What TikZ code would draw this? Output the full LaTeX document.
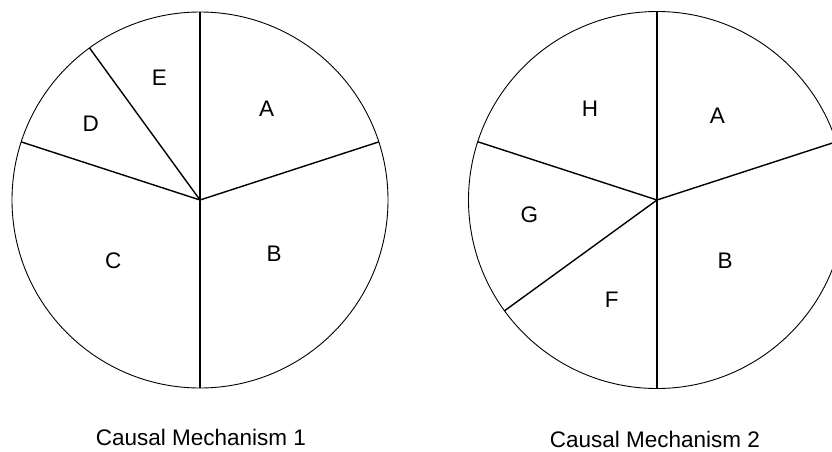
\documentclass[tikz,border=0pt]{standalone}
\usepackage{fontspec}
\setmainfont{Liberation Sans}
\usetikzlibrary{calc}
\begin{document}
\begin{tikzpicture}[x=1pt,y=1pt,
  rim/.style={draw=black,line width=0.9pt},
  spoke/.style={draw=black,line width=1.4pt},
  lbl/.style={inner sep=0pt,font=\fontsize{22.5}{27}\selectfont},
  captext/.style={inner sep=0pt,font=\fontsize{22.5}{27}\selectfont}]
\useasboundingbox (0,0) rectangle (832,451);
\fill[white] (0,0) rectangle (832,451);
% Mechanism 1
\coordinate (c1) at (200,251);
\draw[rim] (c1) circle[radius=188];
\coordinate (p1t) at ($(c1)+(90:188)$);
\coordinate (p1r) at ($(c1)+(18:188)$);
\coordinate (p1b) at ($(c1)+(270:188)$);
\coordinate (p1l) at ($(c1)+(162:188)$);
\coordinate (p1d) at ($(c1)+(126:188)$);
\draw[spoke] (c1) -- (p1t);
\draw[spoke] (c1) -- (p1r);
\draw[spoke] (c1) -- (p1b);
\draw[spoke] (c1) -- (p1l);
\draw[spoke] (c1) -- (p1d);
\node[lbl] (e1) at (159.3,373.7) {E};
\node[lbl] (a1) at (266.7,342.7) {A};
\node[lbl] (d1) at (90.7,327.7) {D};
\node[lbl] (cc1) at (113.3,190.3) {C};
\node[lbl] (b1) at (274,197) {B};
\node[captext] (cap1) at (201,14) {Causal Mechanism 1};
\node[captext] (cap2) at (655,12) {Causal Mechanism 2};
% Mechanism 2 (cut off at the right edge)
\begin{scope}
\clip (0,0) rectangle (832,451);
\coordinate (c2) at (657,251);
\draw[rim] (c2) circle[radius=188.5];
\coordinate (p2t) at ($(c2)+(90:188.5)$);
\coordinate (p2r) at ($(c2)+(18:188.5)$);
\coordinate (p2b) at ($(c2)+(270:188.5)$);
\coordinate (p2l) at ($(c2)+(162:188.5)$);
\coordinate (p2g) at ($(c2)+(216:188.5)$);
\draw[spoke] (c2) -- (p2t);
\draw[spoke] (c2) -- (p2r);
\draw[spoke] (c2) -- (p2b);
\draw[spoke] (c2) -- (p2l);
\draw[spoke] (c2) -- (p2g);
\end{scope}
\node[lbl] (h2) at (590,342.7) {H};
\node[lbl] (a2) at (717.3,335) {A};
\node[lbl] (g2) at (529.3,236) {G};
\node[lbl] (b2) at (725,190.3) {B};
\node[lbl] (f2) at (611.7,151) {F};
\end{tikzpicture}
\end{document}
